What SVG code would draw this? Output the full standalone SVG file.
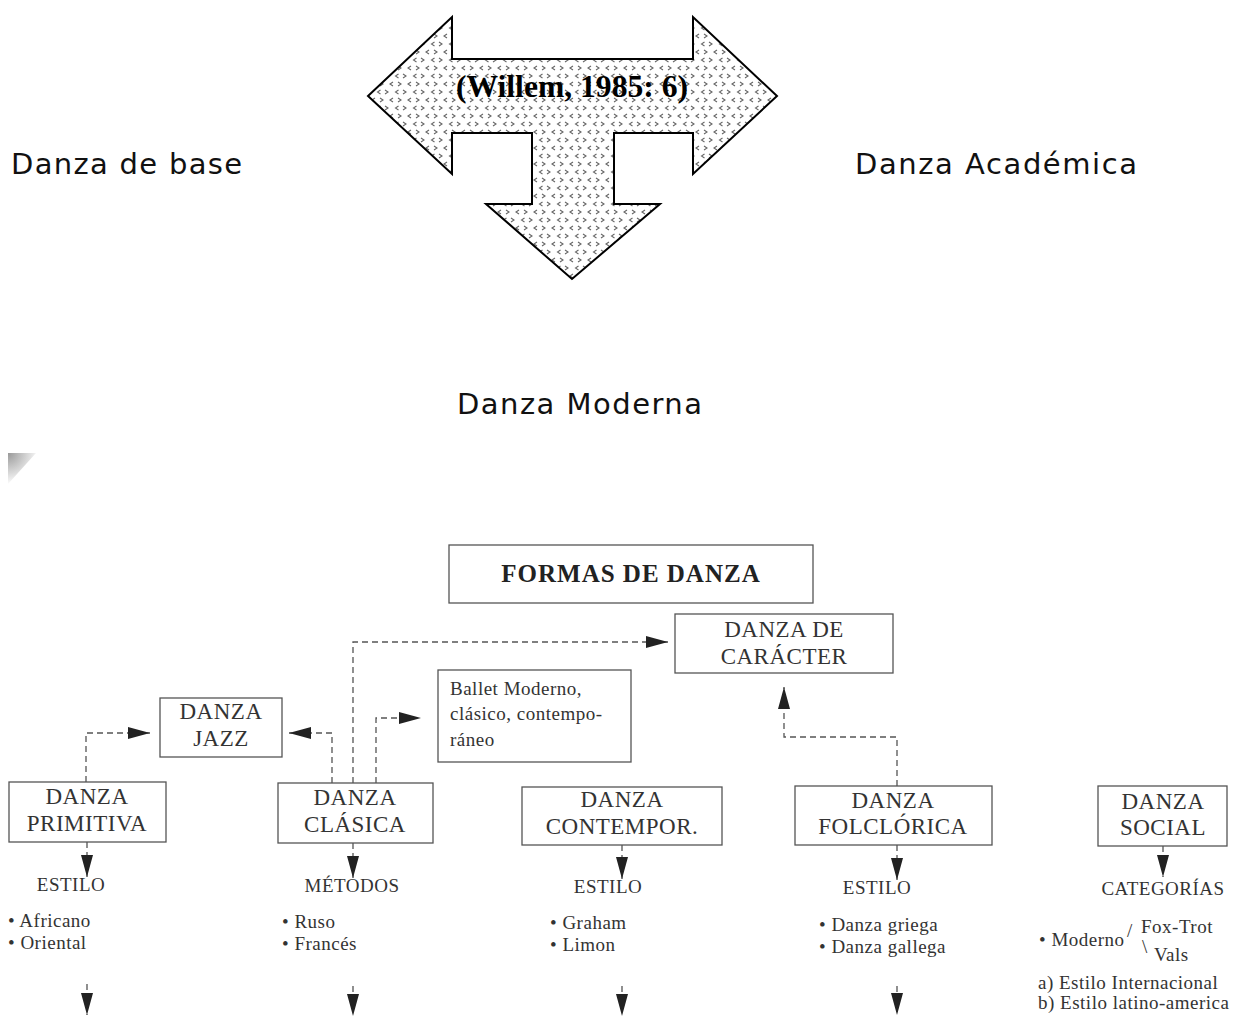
<svg xmlns="http://www.w3.org/2000/svg" width="1235" height="1016" viewBox="0 0 1235 1016">
<style>
.big{font-family:"DejaVu Sans","Verdana",sans-serif;font-size:29px;fill:#111}
.box{fill:#fff;stroke:#555;stroke-width:1.3}
.lbl{font-family:"Liberation Serif","Times New Roman",serif;font-size:23px;letter-spacing:0.5px;fill:#333;text-anchor:middle}
.sm{font-family:"Liberation Serif","Times New Roman",serif;font-size:19px;letter-spacing:0.5px;fill:#333}
.smc{text-anchor:middle}
.dash{fill:none;stroke:#555;stroke-width:1.3;stroke-dasharray:6,4}
.arr{marker-end:url(#ah)}
</style>
<defs>
<pattern id="dots" patternUnits="userSpaceOnUse" width="18" height="16">
<rect width="18" height="16" fill="#fff"/>
<g fill="none" stroke="#666" stroke-width="1.1">
<path d="M2,2 L5,4 L2,6"/>
<path d="M15,2 L12,4 L15,6"/>
<path d="M7,10 L10,12 L7,14"/>
<path d="M2.5,10 L-0.5,12 L2.5,14"/>
<path d="M20.5,10 L17.5,12 L20.5,14"/>
</g>
</pattern>
<radialGradient id="corner" cx="8" cy="453" r="32" gradientUnits="userSpaceOnUse">
<stop offset="0" stop-color="#999"/>
<stop offset="1" stop-color="#fff"/>
</radialGradient>
<marker id="ah" markerUnits="userSpaceOnUse" markerWidth="22" markerHeight="12" refX="22" refY="6" orient="auto">
<path d="M0,0 L22,6 L0,12 z" fill="#222"/>
</marker>
</defs>
<rect width="1235" height="1016" fill="#fff"/>

<g id="willem-arrow">
<polygon points="368,96 452,17 452,59 693,59 693,17 777,96 693,174 693,133 614,133 614,204 660,204 572,279 486,204 532,204 532,133 452,133 452,174" fill="url(#dots)" stroke="#000" stroke-width="2" stroke-linejoin="miter"/>
<text x="456" y="97" font-family="Liberation Serif,Times New Roman,serif" font-weight="bold" font-size="31" fill="#000" textLength="232" lengthAdjust="spacingAndGlyphs">(Willem, 1985: 6)</text>
</g>
<g id="danza-base"><text class="big" x="11" y="174" textLength="231" lengthAdjust="spacing">Danza de base</text></g>
<g id="danza-academica"><text class="big" x="855" y="174" textLength="282" lengthAdjust="spacing">Danza Académica</text></g>
<g id="danza-moderna"><text class="big" x="457" y="414" textLength="245" lengthAdjust="spacing">Danza Moderna</text></g>
<g id="corner-mark"><polygon points="8,453 36,453 8,484" fill="url(#corner)"/></g>

<g id="connectors">
<path class="dash arr" d="M86,782 V733 H150"/>
<path class="dash arr" d="M332,783 V733 H289"/>
<path class="dash arr" d="M353,783 V642 H668"/>
<path class="dash arr" d="M376,783 V718 H421"/>
<path class="dash arr" d="M897,786 V737 H784 V687"/>
<path class="dash arr" d="M87,842 V877"/>
<path class="dash arr" d="M353,843 V878"/>
<path class="dash arr" d="M622,845 V879"/>
<path class="dash arr" d="M897,845 V880"/>
<path class="dash arr" d="M1163,846 V877"/>
<path class="dash arr" d="M87,984 V1015"/>
<path class="dash arr" d="M353,986 V1016"/>
<path class="dash arr" d="M622,986 V1016"/>
<path class="dash arr" d="M897,986 V1015"/>
</g>

<g id="formas">
<rect class="box" x="449" y="545" width="364" height="58"/>
<text x="631" y="582" font-family="Liberation Serif,Times New Roman,serif" font-weight="bold" font-size="25" letter-spacing="1" fill="#222" text-anchor="middle">FORMAS DE DANZA</text>
</g>
<g id="caracter">
<rect class="box" x="675" y="614" width="218" height="59"/>
<text class="lbl" x="784" y="637">DANZA DE</text>
<text class="lbl" x="784" y="664">CARÁCTER</text>
</g>
<g id="ballet">
<rect class="box" x="438" y="670" width="193" height="92"/>
<text class="sm" x="450" y="695" font-size="21" letter-spacing="0.4">Ballet Moderno,</text>
<text class="sm" x="450" y="720" font-size="21" letter-spacing="0.4">clásico, contempo-</text>
<text class="sm" x="450" y="746" font-size="21" letter-spacing="0.4">ráneo</text>
</g>
<g id="jazz">
<rect class="box" x="160" y="698" width="122" height="59"/>
<text class="lbl" x="221" y="719">DANZA</text>
<text class="lbl" x="221" y="746">JAZZ</text>
</g>
<g id="primitiva">
<rect class="box" x="9" y="782" width="157" height="60"/>
<text class="lbl" x="87" y="804">DANZA</text>
<text class="lbl" x="87" y="831">PRIMITIVA</text>
<text class="sm smc" x="71" y="891">ESTILO</text>
<text class="sm" x="8" y="927">• Africano</text>
<text class="sm" x="8" y="949">• Oriental</text>
</g>
<g id="clasica">
<rect class="box" x="278" y="783" width="155" height="60"/>
<text class="lbl" x="355" y="805">DANZA</text>
<text class="lbl" x="355" y="832">CLÁSICA</text>
<text class="sm smc" x="352" y="892">MÉTODOS</text>
<text class="sm" x="282" y="928">•  Ruso</text>
<text class="sm" x="282" y="950">•  Francés</text>
</g>
<g id="contempor">
<rect class="box" x="522" y="787" width="200" height="58"/>
<text class="lbl" x="622" y="807">DANZA</text>
<text class="lbl" x="622" y="834">CONTEMPOR.</text>
<text class="sm smc" x="608" y="893">ESTILO</text>
<text class="sm" x="550" y="929">• Graham</text>
<text class="sm" x="550" y="951">• Limon</text>
</g>
<g id="folclorica">
<rect class="box" x="795" y="786" width="197" height="59"/>
<text class="lbl" x="893" y="808">DANZA</text>
<text class="lbl" x="893" y="834">FOLCLÓRICA</text>
<text class="sm smc" x="877" y="894">ESTILO</text>
<text class="sm" x="819" y="931">• Danza griega</text>
<text class="sm" x="819" y="953">• Danza gallega</text>
</g>
<g id="social">
<rect class="box" x="1098" y="786" width="129" height="60"/>
<text class="lbl" x="1163" y="809">DANZA</text>
<text class="lbl" x="1163" y="835">SOCIAL</text>
<text class="sm smc" x="1163" y="895">CATEGORÍAS</text>
<text class="sm" x="1039" y="946" font-size="18">• Moderno</text>
<text class="sm" x="1127" y="937" font-size="13">/</text>
<text class="sm" x="1141" y="933" font-size="18">Fox-Trot</text>
<text class="sm" x="1142" y="953" font-size="13">\</text>
<text class="sm" x="1154" y="961" font-size="18">Vals</text>
<text class="sm" x="1038" y="989" font-size="18">a) Estilo Internacional</text>
<text class="sm" x="1038" y="1009" font-size="18">b) Estilo latino-america</text>
</g>
</svg>
